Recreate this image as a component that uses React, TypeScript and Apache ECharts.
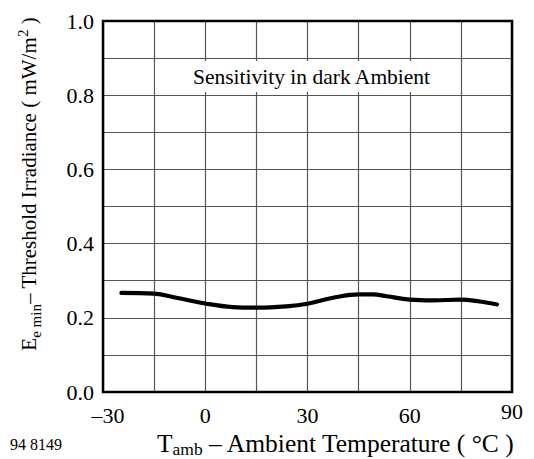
import React, { useEffect, useRef } from "react";
import * as echarts from "echarts";

const temps = [-24.6, -15, -8.5, 0.3, 8, 15, 23.8, 30, 37.5, 45.3, 49.2, 53.2, 60, 66.8, 75, 80.5, 85.6];
const irradiance = [0.267, 0.265, 0.254, 0.238, 0.229, 0.2275, 0.231, 0.238, 0.254, 0.263, 0.263, 0.258, 0.249, 0.247, 0.249, 0.244, 0.236];
const xLabelTicks = [-30, 0, 30, 60, 90];
const yLabelTicks = [0, 0.2, 0.4, 0.6, 0.8, 1.0];
const chartTitle = "Sensitivity in dark Ambient";
const figureId = "94 8149";

const SERIF = "Liberation Serif, Times New Roman, serif";

export default function App() {
  const ref = useRef<HTMLDivElement>(null);
  useEffect(() => {
    if (!ref.current) return;
    const chart = echarts.init(ref.current, undefined, { renderer: "svg" });
    chart.setOption({
      animation: false,
      backgroundColor: "#fff",
      textStyle: { fontFamily: SERIF },
      grid: {
        left: 103,
        top: 21,
        right: 22,
        bottom: 67,
        show: true,
        borderColor: "#000",
        borderWidth: 2.5,
        backgroundColor: "transparent",
        z: 5,
      },
      xAxis: {
        type: "value",
        min: -30,
        max: 90,
        interval: 15,
        axisLine: { show: false },
        axisTick: { show: false },
        splitLine: { show: true, lineStyle: { color: "#555", width: 1.2 } },
        axisLabel: {
          margin: 8,
          fontSize: 22,
          fontFamily: SERIF,
          color: "#000",
          formatter: (v: number) => {
            if (!xLabelTicks.includes(v)) return "";
            if (v < 0) return "{n|\u2013" + Math.abs(v) + "}";
            if (v === 90) return "{e|" + v + "}";
            return "{a|" + v + "}";
          },
          rich: {
            a: { fontSize: 22, fontFamily: SERIF, color: "#000", padding: [4, 0, 0, 0] },
            n: { fontSize: 22, fontFamily: SERIF, color: "#000", padding: [4, 0, 0, 10] },
            e: { fontSize: 22, fontFamily: SERIF, color: "#000", padding: [0, 0, 4, 0] },
          },
        },
      },
      yAxis: {
        type: "value",
        min: 0,
        max: 1,
        interval: 0.1,
        axisLine: { show: false },
        axisTick: { show: false },
        splitLine: { show: true, lineStyle: { color: "#555", width: 1.2 } },
        axisLabel: {
          margin: 9,
          fontSize: 22,
          fontFamily: SERIF,
          color: "#000",
          formatter: (v: number) =>
            yLabelTicks.some((t) => Math.abs(t - v) < 1e-6) ? v.toFixed(1) : "",
        },
      },
      series: [
        {
          type: "line",
          data: temps.map((t, i) => [t, irradiance[i]]),
          smooth: 0.4,
          showSymbol: false,
          symbol: "none",
          lineStyle: { color: "#000", width: 4.2, cap: "round" },
          z: 10,
        },
      ],
      graphic: [
        {
          type: "rect",
          shape: { x: 155, y: 61, width: 303, height: 31 },
          style: { fill: "#fff" },
          z: 20,
        },
        {
          type: "text",
          x: 193,
          y: 77,
          z: 21,
          style: {
            text: chartTitle,
            fontSize: 21.5,
            fontFamily: SERIF,
            fill: "#000",
            align: "left",
            verticalAlign: "middle",
          },
        },
        {
          type: "text",
          x: 29,
          y: 184,
          rotation: Math.PI / 2,
          z: 21,
          style: {
            text: "{m|E}{s|e min}{m|\u2013 Threshold Irradiance ( mW/m}{p|2}{m| )}",
            align: "center",
            verticalAlign: "middle",
            fontFamily: SERIF,
            fill: "#000",
            rich: {
              m: { fontSize: 21, fontFamily: SERIF, fill: "#000", lineHeight: 28 },
              s: { fontSize: 15, fontFamily: SERIF, fill: "#000", lineHeight: 14, verticalAlign: "bottom" },
              p: { fontSize: 15, fontFamily: SERIF, fill: "#000", lineHeight: 14, verticalAlign: "top" },
            },
          },
        },
        {
          type: "text",
          x: 157,
          y: 443,
          z: 21,
          style: {
            text: "{m|T}{s|amb}{m| \u2013 Ambient Temperature ( \u00B0C )}",
            align: "left",
            verticalAlign: "middle",
            fontFamily: SERIF,
            fill: "#000",
            rich: {
              m: { fontSize: 25.5, fontFamily: SERIF, fill: "#000", lineHeight: 30 },
              s: { fontSize: 17.5, fontFamily: SERIF, fill: "#000", lineHeight: 15, verticalAlign: "bottom" },
            },
          },
        },
        {
          type: "text",
          x: 10,
          y: 444,
          z: 21,
          style: {
            text: figureId,
            fontSize: 16,
            fontFamily: SERIF,
            fill: "#000",
            align: "left",
            verticalAlign: "middle",
          },
        },
      ],
    });
    return () => chart.dispose();
  }, []);
  return (
    <div
      ref={ref}
      style={{ position: "fixed", left: 0, top: 0, width: 534, height: 459, background: "#fff" }}
    />
  );
}
